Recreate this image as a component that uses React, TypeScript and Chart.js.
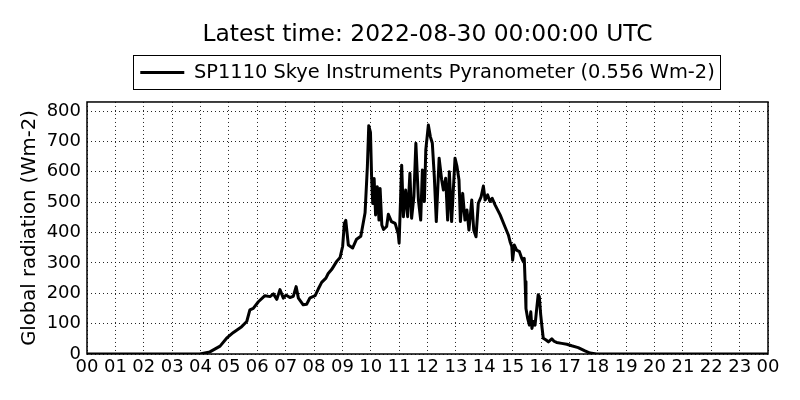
import React, { useEffect, useRef } from "react";
import { Chart, registerables } from "chart.js";

Chart.register(...registerables);

// time of day in decimal hours (UTC) and global radiation readings in Wm-2
const hours = [
  0.0, 3.98, 4.33, 4.69, 4.92, 5.16, 5.45, 5.63, 5.74, 5.86, 6.04, 6.27, 6.45, 6.57, 6.69, 6.8, 6.92, 7.01,
  7.15, 7.27, 7.37, 7.45, 7.62, 7.74, 7.86, 8.04, 8.15, 8.27, 8.42, 8.5, 8.62, 8.8, 8.92, 9.01, 9.07, 9.12,
  9.21, 9.36, 9.5, 9.65, 9.8, 9.88, 9.93, 9.99, 10.03, 10.07, 10.12, 10.17, 10.23, 10.29, 10.33, 10.39,
  10.45, 10.56, 10.62, 10.73, 10.86, 10.97,
  11.0, 11.09, 11.15, 11.23, 11.3, 11.38, 11.44, 11.52, 11.59, 11.68, 11.76, 11.82, 11.89, 11.94,
  12.03, 12.1, 12.17, 12.24, 12.31, 12.41, 12.5, 12.56, 12.64, 12.71, 12.77, 12.85, 12.97,
  13.04, 13.11, 13.16, 13.24, 13.32, 13.39, 13.46, 13.56, 13.63, 13.71, 13.79, 13.89, 13.97,
  14.03, 14.12, 14.2, 14.28, 14.38, 14.56, 14.73,
  14.85, 14.91, 14.97, 15.0, 15.06, 15.14, 15.24, 15.32, 15.38, 15.41, 15.44, 15.47, 15.53,
  15.59, 15.64, 15.68, 15.73, 15.79, 15.85, 15.9, 15.94, 15.99, 16.04, 16.08, 16.18, 16.26, 16.38, 16.46,
  16.55, 16.73, 16.91, 17.08, 17.31, 17.55, 17.73, 17.96, 24.0,
];

const radiation = [
  0, 0, 7, 26, 52, 71, 90, 107, 145, 150, 172, 192, 189, 198, 180, 212, 184, 194,
  186, 190, 222, 184, 162, 164, 185, 192, 214, 236, 250, 265, 278, 305, 318, 355, 430, 440,
  359, 349, 378, 388, 465, 615, 752, 730, 584, 496, 578, 458, 551, 441, 545, 425,
  410, 420, 460, 436, 430, 395,
  365, 622, 452, 540, 452, 595, 447, 518, 694, 507, 441, 606, 502, 672,
  754, 716, 694, 584, 436, 645, 573, 540, 579, 441, 600, 436, 645,
  617, 573, 436, 529, 441, 474, 408, 507, 408, 386, 496, 518, 553,
  507, 524, 502, 513, 491, 458, 419,
  392, 370, 354, 309, 359, 342, 337, 315, 304, 315, 239, 150, 117,
  95, 139, 84, 107, 95, 150, 195, 189, 129, 84, 52, 46, 40, 50, 42,
  38, 35, 32, 27, 21, 10, 3, 0, 0,
];

const hourLabels = [
  "00", "01", "02", "03", "04", "05", "06", "07", "08", "09", "10", "11", "12",
  "13", "14", "15", "16", "17", "18", "19", "20", "21", "22", "23", "00",
];

const yTicks = [0, 100, 200, 300, 400, 500, 600, 700, 800];

const seriesLabel = "SP1110 Skye Instruments Pyranometer (0.556 Wm-2)";
const titleText = "Latest time: 2022-08-30 00:00:00 UTC";

const FONT = "'DejaVu Sans', sans-serif";

// frame round the plot area and the box round the legend
const framePlugin = {
  id: "frame",
  afterDraw(chart: any) {
    const { ctx, chartArea } = chart;
    ctx.save();
    ctx.strokeStyle = "#000";
    ctx.lineWidth = 1.5;
    ctx.strokeRect(chartArea.left, chartArea.top, chartArea.right - chartArea.left, chartArea.bottom - chartArea.top);
    const hb = chart.legend && chart.legend.legendHitBoxes && chart.legend.legendHitBoxes[0];
    if (hb) {
      ctx.lineWidth = 1;
      ctx.strokeRect(Math.round(hb.left - 7) + 0.5, Math.round(hb.top - 8) + 0.5, Math.round(hb.width + 13), Math.round(hb.height + 15));
    }
    ctx.restore();
  },
};

export default function App() {
  const canvasRef = useRef<HTMLCanvasElement | null>(null);
  const chartRef = useRef<Chart | null>(null);

  useEffect(() => {
    if (!canvasRef.current) return;
    if (chartRef.current) chartRef.current.destroy();

    const points = hours.map((h, i) => ({ x: h, y: radiation[i] }));

    chartRef.current = new Chart(canvasRef.current, {
      type: "line",
      data: {
        datasets: [
          {
            label: seriesLabel,
            data: points,
            borderColor: "#000",
            backgroundColor: "#000",
            borderWidth: 3,
            borderJoinStyle: "round",
            pointRadius: 0,
            tension: 0,
            pointStyle: "line",
          },
        ],
      },
      options: {
        responsive: false,
        animation: false,
        layout: { padding: { left: 0, right: 32, top: 0, bottom: 0 } },
        plugins: {
          title: {
            display: true,
            fullSize: false,
            text: titleText,
            color: "#000",
            font: { family: FONT, size: 23.4, weight: "normal" },
            padding: { top: 21, bottom: 3.7 },
          },
          legend: {
            display: true,
            fullSize: false,
            position: "top",
            labels: {
              color: "#000",
              font: { family: FONT, size: 19.4 },
              usePointStyle: true,
              pointStyleWidth: 44,
              padding: 10,
            },
          },
          tooltip: { enabled: false },
        },
        scales: {
          x: {
            type: "linear",
            min: 0,
            max: 24,
            ticks: {
              stepSize: 1,
              autoSkip: false,
              maxRotation: 0,
              color: "#000",
              font: { family: FONT, size: 18 },
              padding: 3,
              callback: (v: any) => hourLabels[Number(v)] ?? "",
            },
            grid: { color: "rgba(0,0,0,0.85)", lineWidth: 1, drawTicks: false },
            border: { display: false, dash: [1, 3] },
            afterFit: (scale: any) => {
              scale.height = 46;
            },
          },
          xTop: {
            type: "linear",
            position: "top",
            min: 0,
            max: 24,
            ticks: { display: false },
            grid: { display: false, drawTicks: false },
            border: { display: false },
            afterFit: (scale: any) => {
              scale.height = 9.8;
            },
          },
          y: {
            min: 0,
            max: 830,
            afterBuildTicks: (scale: any) => {
              scale.ticks = yTicks.map((v) => ({ value: v }));
            },
            ticks: {
              color: "#000",
              font: { family: FONT, size: 18 },
              padding: 6,
            },
            grid: { color: "rgba(0,0,0,0.85)", lineWidth: 1, drawTicks: false },
            border: { display: false, dash: [1, 3] },
            title: {
              display: true,
              text: "Global radiation (Wm-2)",
              color: "#000",
              font: { family: FONT, size: 19.6 },
              padding: { top: 18, bottom: 0 },
            },
            afterFit: (scale: any) => {
              scale.width = 87;
            },
          },
        },
      },
      plugins: [framePlugin],
    });

    return () => {
      if (chartRef.current) {
        chartRef.current.destroy();
        chartRef.current = null;
      }
    };
  }, []);

  return (
    <div style={{ position: "absolute", left: 0, top: 0, width: 800, height: 400, background: "#fff" }}>
      <canvas ref={canvasRef} width={800} height={400} style={{ display: "block" }} />
    </div>
  );
}
